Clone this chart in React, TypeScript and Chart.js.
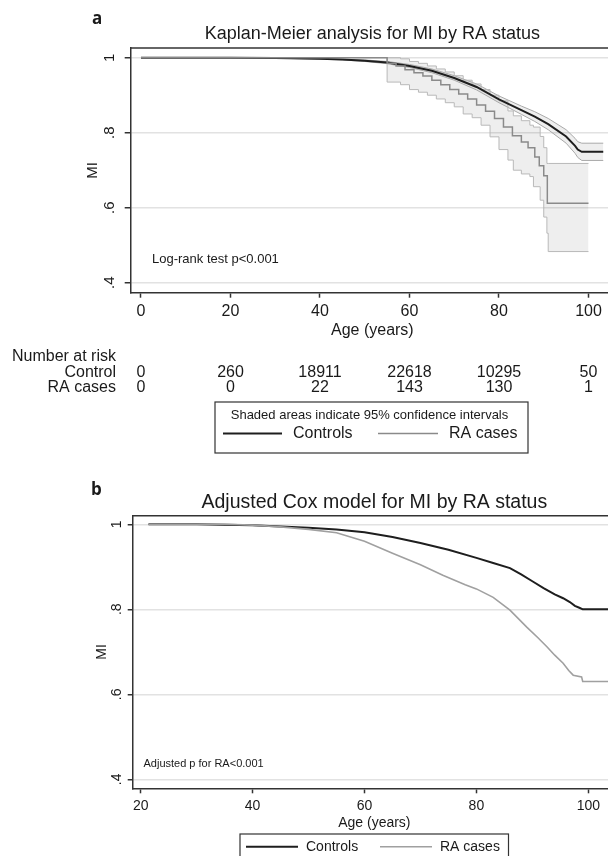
import React, { useEffect, useRef } from "react";
import { Chart, registerables } from "chart.js";

Chart.register(...registerables);

const FONT = '"Liberation Sans", Arial, Helvetica, sans-serif';
const BOLD_FONT = '"Open Sans", "Liberation Sans", Arial, sans-serif';
const TEXT = "#1a1a1a";
const AXIS = "#333333";
const GRID = "#e2e2e2";
const CTRL_COL = "#1e1e1e";
const RA_COL = "#8a8a8a";
const CI_COL = "#b8b8b8";
const BAND = "rgba(0,0,0,0.065)";

// ---------- Panel a: Kaplan-Meier ----------
const titleA = "Kaplan-Meier analysis for MI by RA status";
const kmXTicks = [0, 20, 40, 60, 80, 100];
const kmYTicks = [0.4, 0.6, 0.8, 1];
const yTickLabels = [".4", ".6", ".8", "1"];
const riskLabels = ["Control", "RA cases"];
const riskControl = [0, 260, 18911, 22618, 10295, 50];
const riskRA = [0, 0, 22, 143, 130, 1];

const kmCtrlAge = [0, 20, 30, 40, 45, 50, 55, 60, 65, 70, 75, 80, 85, 88, 91, 95, 97, 97.6, 98.5, 103.3];
const kmCtrlSurv = [1, 1, 0.999, 0.997, 0.995, 0.992, 0.987, 0.978, 0.965, 0.946, 0.922, 0.889, 0.86, 0.843, 0.823, 0.79, 0.765, 0.755, 0.749, 0.749];
const kmCtrlUpper = [1, 1, 0.999, 0.998, 0.996, 0.994, 0.99, 0.982, 0.97, 0.952, 0.93, 0.898, 0.871, 0.856, 0.838, 0.808, 0.785, 0.776, 0.772, 0.772];
const kmCtrlLower = [1, 1, 0.999, 0.996, 0.994, 0.99, 0.984, 0.974, 0.96, 0.94, 0.914, 0.88, 0.849, 0.83, 0.808, 0.772, 0.745, 0.734, 0.726, 0.726];

const kmRaAge = [0, 55, 57, 59, 61, 63, 65, 67, 69, 71, 73, 75, 77, 79, 81, 83, 85, 86.5, 88, 89, 90, 90.8, 100];
const kmRaSurv = [1, 0.985, 0.978, 0.968, 0.96, 0.951, 0.94, 0.928, 0.915, 0.903, 0.89, 0.874, 0.857, 0.838, 0.815, 0.792, 0.775, 0.76, 0.735, 0.712, 0.685, 0.612, 0.612];

const kmRaCiAge = [55, 55, 58, 60, 62, 64, 66, 68, 70, 72, 74, 76, 78, 80, 82, 83.2, 85, 86.9, 87.7, 89.2, 90, 90.7, 91, 100];
const kmRaUpper = [1, 1, 0.997, 0.99, 0.985, 0.978, 0.97, 0.962, 0.952, 0.94, 0.93, 0.915, 0.9, 0.885, 0.858, 0.845, 0.832, 0.82, 0.815, 0.79, 0.76, 0.718, 0.718, 0.718];
const kmRaLower = [1, 0.935, 0.928, 0.915, 0.908, 0.9, 0.89, 0.88, 0.869, 0.85, 0.84, 0.82, 0.789, 0.755, 0.727, 0.7, 0.69, 0.683, 0.656, 0.62, 0.575, 0.532, 0.483, 0.483];

// ---------- Panel b: adjusted Cox ----------
const titleB = "Adjusted Cox model for MI by RA status";
const coxXTicks = [20, 40, 60, 80, 100];
const coxCtrlAge = [21.4, 30, 40, 45, 50, 55, 60, 65, 70, 75, 80, 83, 86, 88, 90, 92, 94, 95.5, 96.7, 97.6, 98.5, 99, 104.5];
const coxCtrlSurv = [1, 1, 0.998, 0.995, 0.992, 0.988, 0.981, 0.97, 0.956, 0.94, 0.921, 0.909, 0.897, 0.882, 0.866, 0.85, 0.835, 0.826, 0.817, 0.808, 0.803, 0.8, 0.8];
const coxRaAge = [21.4, 35, 40, 45, 50, 55, 60, 65, 70, 74, 78, 80, 83, 86, 89, 91, 92.6, 94, 95.5, 96.5, 97.3, 98.8, 99, 104.5];
const coxRaSurv = [1, 1, 0.998, 0.994, 0.988, 0.98, 0.96, 0.932, 0.905, 0.88, 0.858, 0.848, 0.828, 0.798, 0.758, 0.733, 0.712, 0.692, 0.673, 0.656, 0.645, 0.641, 0.63, 0.63];

const pts = (xs: number[], ys: number[]) => xs.map((x, i) => ({ x, y: ys[i] }));

const line = (data: any, color: string, width: number, extra: any = {}) => ({
  data,
  borderColor: color,
  borderWidth: width,
  pointRadius: 0,
  pointHoverRadius: 0,
  fill: false,
  tension: 0,
  ...extra,
});

function drawLegendRow(ctx: CanvasRenderingContext2D, y: number, font: string, items: { x1: number; x2: number; tx: number; color: string; w: number; label: string }[]) {
  items.forEach((it) => {
    ctx.strokeStyle = it.color;
    ctx.lineWidth = it.w;
    ctx.beginPath();
    ctx.moveTo(it.x1, y);
    ctx.lineTo(it.x2, y);
    ctx.stroke();
    ctx.fillStyle = TEXT;
    ctx.font = font;
    ctx.textAlign = "left";
    ctx.textBaseline = "middle";
    ctx.fillText(it.label, it.tx, y);
  });
}

const panelAPlugin = {
  id: "panelA",
  afterDraw(chart: any) {
    const { ctx, chartArea, scales } = chart;
    const xs = scales.x;
    ctx.save();
    ctx.strokeStyle = AXIS;
    ctx.lineWidth = 1.5;
    ctx.beginPath();
    ctx.moveTo(chartArea.left, chartArea.top);
    ctx.lineTo(chartArea.right, chartArea.top);
    ctx.stroke();

    ctx.fillStyle = TEXT;
    ctx.font = `bold 17px ${BOLD_FONT}`;
    ctx.textAlign = "left";
    ctx.textBaseline = "alphabetic";
    ctx.fillText("a", 92, 24);

    ctx.font = `18px ${FONT}`;
    ctx.textAlign = "center";
    ctx.textBaseline = "middle";
    ctx.fillText(titleA, (chartArea.left + chartArea.right) / 2, 34);

    ctx.font = `13px ${FONT}`;
    ctx.textAlign = "left";
    ctx.fillText("Log-rank test p<0.001", 152, 259);

    // number at risk table
    ctx.font = `16px ${FONT}`;
    ctx.textAlign = "right";
    ctx.fillText("Number at risk", 116, 357);
    ctx.fillText(riskLabels[0], 116, 372.5);
    ctx.fillText(riskLabels[1], 116, 388);
    ctx.textAlign = "center";
    kmXTicks.forEach((t, i) => {
      const px = xs.getPixelForValue(t);
      ctx.fillText(String(riskControl[i]), px, 372.5);
      ctx.fillText(String(riskRA[i]), px, 388);
    });

    // legend box
    ctx.strokeStyle = AXIS;
    ctx.lineWidth = 1.2;
    ctx.strokeRect(215, 402, 313, 51);
    ctx.font = `13px ${FONT}`;
    ctx.textAlign = "center";
    ctx.fillStyle = TEXT;
    ctx.fillText("Shaded areas indicate 95% confidence intervals", 369.5, 415);
    drawLegendRow(ctx, 433.5, `16px ${FONT}`, [
      { x1: 223, x2: 282, tx: 293, color: CTRL_COL, w: 2, label: "Controls" },
      { x1: 378, x2: 438, tx: 449, color: RA_COL, w: 1.5, label: "RA cases" },
    ]);
    ctx.restore();
  },
};

const panelBPlugin = {
  id: "panelB",
  afterDraw(chart: any) {
    const { ctx, chartArea } = chart;
    ctx.save();
    ctx.strokeStyle = AXIS;
    ctx.lineWidth = 1.5;
    ctx.beginPath();
    ctx.moveTo(chartArea.left, chartArea.top);
    ctx.lineTo(chartArea.right, chartArea.top);
    ctx.stroke();

    ctx.fillStyle = TEXT;
    ctx.font = `bold 17px ${BOLD_FONT}`;
    ctx.textAlign = "left";
    ctx.textBaseline = "alphabetic";
    ctx.fillText("b", 91, 25);

    ctx.font = `19.5px ${FONT}`;
    ctx.textAlign = "center";
    ctx.textBaseline = "middle";
    ctx.fillText(titleB, (chartArea.left + chartArea.right) / 2, 33);

    ctx.font = `11px ${FONT}`;
    ctx.textAlign = "left";
    ctx.fillText("Adjusted p for RA<0.001", 143.5, 294);

    ctx.strokeStyle = AXIS;
    ctx.lineWidth = 1.2;
    ctx.strokeRect(240, 364, 268.5, 60);
    drawLegendRow(ctx, 376.7, `14px ${FONT}`, [
      { x1: 246, x2: 298, tx: 306, color: CTRL_COL, w: 2, label: "Controls" },
      { x1: 380, x2: 432, tx: 440, color: "#a0a0a0", w: 1.5, label: "RA cases" },
    ]);
    ctx.restore();
  },
};

function KMChart() {
  const ref = useRef<HTMLCanvasElement>(null);
  useEffect(() => {
    const chart = new Chart(ref.current as HTMLCanvasElement, {
      type: "line",
      data: {
        datasets: [
          line(pts(kmRaAge, kmRaSurv), RA_COL, 1.5, { label: "RA cases", stepped: "before", order: 0 }),
          line(pts(kmCtrlAge, kmCtrlSurv), CTRL_COL, 2, { label: "Controls", order: 1 }),
          line(pts(kmRaCiAge, kmRaUpper), CI_COL, 1, { label: "RA upper", stepped: "before", fill: 3, backgroundColor: BAND, order: 2 }),
          line(pts(kmRaCiAge, kmRaLower), CI_COL, 1, { label: "RA lower", stepped: "before", order: 3 }),
          line(pts(kmCtrlAge, kmCtrlUpper), "#a8a8a8", 1, { label: "Ctrl upper", fill: 5, backgroundColor: BAND, order: 4 }),
          line(pts(kmCtrlAge, kmCtrlLower), "#a8a8a8", 1, { label: "Ctrl lower", order: 5 }),
        ] as any,
      },
      options: {
        animation: false,
        responsive: false,
        events: [],
        layout: { padding: { top: 48, left: 0, right: 6, bottom: 0 } },
        plugins: {
          legend: { display: false },
          tooltip: { enabled: false },
          title: { display: false },
          filler: { drawTime: "beforeDatasetsDraw" },
        } as any,
        scales: {
          x: {
            type: "linear",
            min: -2.3,
            max: 105.7,
            afterBuildTicks: (ax: any) => {
              ax.ticks = kmXTicks.map((v) => ({ value: v }));
            },
            afterFit: (ax: any) => {
              ax.height = 177.3;
            },
            ticks: {
              callback: (_v: any, i: number) => String(kmXTicks[i]),
              autoSkip: false,
              minRotation: 0,
              maxRotation: 0,
              padding: 4,
              color: TEXT,
              font: { family: FONT, size: 16 },
            },
            grid: { drawOnChartArea: false, drawTicks: true, tickLength: 5, tickColor: AXIS, tickWidth: 1.5 },
            border: { display: true, color: AXIS, width: 1.5 },
            title: { display: true, text: "Age (years)", color: TEXT, font: { family: FONT, size: 16 }, padding: { top: 0, bottom: 129.4 } },
          },
          y: {
            type: "linear",
            min: 0.3733,
            max: 1.0259,
            afterBuildTicks: (ax: any) => {
              ax.ticks = kmYTicks.map((v) => ({ value: v }));
            },
            afterFit: (ax: any) => {
              ax.width = 130.7;
            },
            ticks: {
              callback: (_v: any, i: number) => yTickLabels[i],
              minRotation: 90,
              maxRotation: 90,
              crossAlign: "center",
              padding: 8.5,
              color: TEXT,
              font: { family: FONT, size: 15 },
            },
            grid: { color: GRID, lineWidth: 1.5, drawTicks: true, tickLength: 6, tickColor: AXIS, tickWidth: 1.5 },
            border: { display: true, color: AXIS, width: 1.5 },
            title: { display: true, text: "MI", color: TEXT, font: { family: FONT, size: 15 }, padding: { top: 84.3, bottom: 0 } },
          },
        } as any,
      },
      plugins: [panelAPlugin],
    });
    return () => chart.destroy();
  }, []);
  return <canvas ref={ref} width={620} height={470} style={{ position: "absolute", left: 0, top: 0, width: 620, height: 470 }} />;
}

function CoxChart() {
  const ref = useRef<HTMLCanvasElement>(null);
  useEffect(() => {
    const chart = new Chart(ref.current as HTMLCanvasElement, {
      type: "line",
      data: {
        datasets: [
          line(pts(coxRaAge, coxRaSurv), "#a0a0a0", 1.6, { label: "RA cases", order: 0 }),
          line(pts(coxCtrlAge, coxCtrlSurv), CTRL_COL, 2, { label: "Controls", order: 1 }),
        ] as any,
      },
      options: {
        animation: false,
        responsive: false,
        events: [],
        layout: { padding: { top: 45.7, left: 0, right: 4, bottom: 0 } },
        plugins: {
          legend: { display: false },
          tooltip: { enabled: false },
          title: { display: false },
        },
        scales: {
          x: {
            type: "linear",
            min: 18.57,
            max: 104.95,
            afterBuildTicks: (ax: any) => {
              ax.ticks = coxXTicks.map((v) => ({ value: v }));
            },
            afterFit: (ax: any) => {
              ax.height = 67.7;
            },
            ticks: {
              callback: (_v: any, i: number) => String(coxXTicks[i]),
              autoSkip: false,
              minRotation: 0,
              maxRotation: 0,
              padding: 4.3,
              color: TEXT,
              font: { family: FONT, size: 14 },
            },
            grid: { drawOnChartArea: false, drawTicks: true, tickLength: 5, tickColor: AXIS, tickWidth: 1.5 },
            border: { display: true, color: AXIS, width: 1.5 },
            title: { display: true, text: "Age (years)", color: TEXT, font: { family: FONT, size: 14 }, padding: { top: 0, bottom: 24.6 } },
          },
          y: {
            type: "linear",
            min: 0.3788,
            max: 1.0202,
            afterBuildTicks: (ax: any) => {
              ax.ticks = kmYTicks.map((v) => ({ value: v }));
            },
            afterFit: (ax: any) => {
              ax.width = 132.7;
            },
            ticks: {
              callback: (_v: any, i: number) => yTickLabels[i],
              minRotation: 90,
              maxRotation: 90,
              crossAlign: "center",
              padding: 4.6,
              color: TEXT,
              font: { family: FONT, size: 14 },
            },
            grid: { color: GRID, lineWidth: 1.5, drawTicks: true, tickLength: 5, tickColor: AXIS, tickWidth: 1.5 },
            border: { display: true, color: AXIS, width: 1.5 },
            title: { display: true, text: "MI", color: TEXT, font: { family: FONT, size: 14 }, padding: { top: 93.3, bottom: 0 } },
          },
        } as any,
      },
      plugins: [panelBPlugin],
    });
    return () => chart.destroy();
  }, []);
  return <canvas ref={ref} width={620} height={386} style={{ position: "absolute", left: 0, top: 470, width: 620, height: 386 }} />;
}

export default function App() {
  return (
    <div style={{ position: "absolute", left: 0, top: 0, width: 608, height: 856, overflow: "hidden", background: "#ffffff" }}>
      <KMChart />
      <CoxChart />
    </div>
  );
}
